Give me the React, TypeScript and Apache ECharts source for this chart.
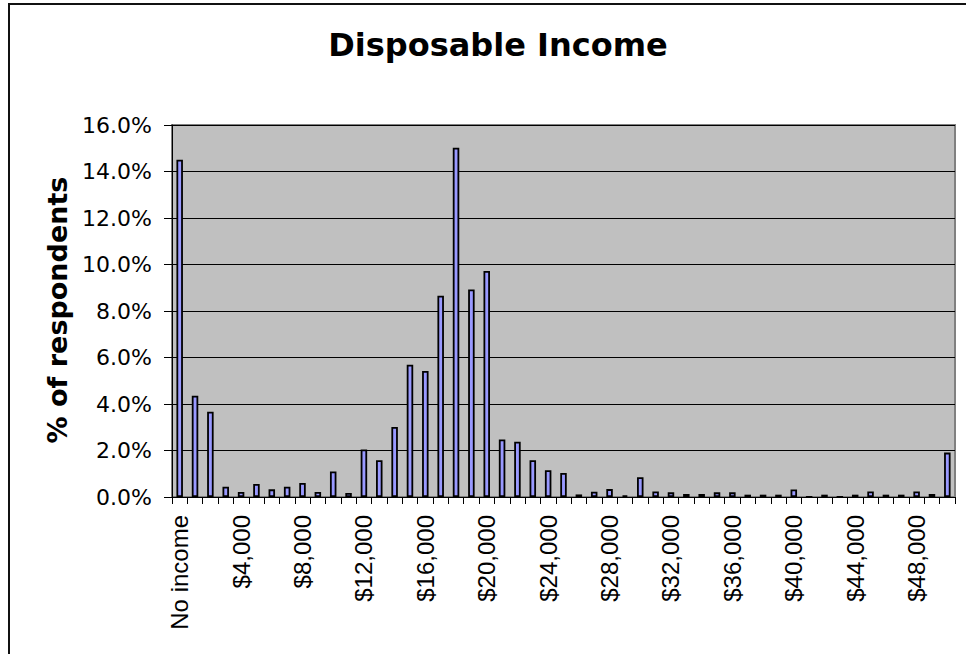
import React, { useEffect, useRef } from "react";
import * as echarts from "echarts";

const categories: string[] = [
  "No income", "$1,000", "$2,000", "$3,000", "$4,000", "$5,000", "$6,000", "$7,000", "$8,000", "$9,000",
  "$10,000", "$11,000", "$12,000", "$13,000", "$14,000", "$15,000", "$16,000", "$17,000", "$18,000", "$19,000",
  "$20,000", "$21,000", "$22,000", "$23,000", "$24,000", "$25,000", "$26,000", "$27,000", "$28,000", "$29,000",
  "$30,000", "$31,000", "$32,000", "$33,000", "$34,000", "$35,000", "$36,000", "$37,000", "$38,000", "$39,000",
  "$40,000", "$41,000", "$42,000", "$43,000", "$44,000", "$45,000", "$46,000", "$47,000", "$48,000", "$49,000",
  "$50,000",
];

const respondentsPct: number[] = [
  14.51, 4.36, 3.67, 0.44, 0.22, 0.56, 0.33, 0.44, 0.6, 0.22,
  1.1, 0.17, 2.04, 1.58, 3.01, 5.69, 5.42, 8.66, 15.02, 8.93,
  9.72, 2.47, 2.38, 1.58, 1.15, 1.03, 0.11, 0.23, 0.34, 0.07,
  0.85, 0.24, 0.2, 0.13, 0.13, 0.2, 0.2, 0.1, 0.1, 0.1,
  0.32, 0, 0.1, 0, 0.1, 0.24, 0.1, 0.1, 0.24, 0.13,
  1.91,
];

const yMin = 0;
const yMax = 16;
const yStep = 2;

const titleText = "Disposable Income";
const yAxisTitle = "% of respondents";

export default function App() {
  const ref = useRef<HTMLDivElement>(null);

  useEffect(() => {
    if (!ref.current) return;
    const chart = echarts.init(ref.current, null, { renderer: "svg" });
    chart.setOption({
      animation: false,
      backgroundColor: "#ffffff",
      title: {
        text: titleText,
        left: 493,
        top: 24,
        textAlign: "center",
        textStyle: {
          fontFamily: "DejaVu Sans",
          fontWeight: "bold",
          fontSize: 32,
          color: "#000",
        },
      },
      graphic: [
        {
          type: "rect",
          shape: { x: 9, y: 4, width: 1100, height: 800 },
          style: { fill: "none", stroke: "#111", lineWidth: 2 },
          silent: true,
          z: 100,
        },
        {
          type: "text",
          x: 57,
          y: 310,
          rotation: Math.PI / 2,
          style: {
            text: yAxisTitle,
            fontFamily: "DejaVu Sans",
            fontWeight: "bold",
            fontSize: 27,
            fill: "#000",
            textAlign: "center",
            textVerticalAlign: "middle",
          },
        },
      ],
      grid: {
        left: 172,
        right: 11,
        top: 125,
        bottom: 157,
        show: true,
        backgroundColor: "#c0c0c0",
        borderColor: "#808080",
        borderWidth: 2,
      },
      xAxis: {
        type: "category",
        data: categories,
        boundaryGap: true,
        axisLine: { show: true, lineStyle: { color: "#000", width: 1 } },
        axisTick: { show: true, interval: 0, length: 7, lineStyle: { color: "#000" } },
        axisLabel: {
          interval: 3,
          rotate: 90,
          margin: 18,
          fontFamily: "Liberation Sans",
          fontSize: 24,
          color: "#000",
        },
        splitLine: { show: false },
      },
      yAxis: {
        type: "value",
        min: yMin,
        max: yMax,
        interval: yStep,
        axisLine: { show: true, lineStyle: { color: "#000", width: 1 } },
        axisTick: { show: true, length: 8, lineStyle: { color: "#000" } },
        axisLabel: {
          formatter: (v: number) => v.toFixed(1) + "%",
          margin: 20,
          fontFamily: "DejaVu Sans",
          fontSize: 22,
          color: "#000",
        },
        splitLine: { show: true, lineStyle: { color: "#000", width: 1 } },
      },
      series: [
        {
          type: "bar",
          data: respondentsPct,
          barWidth: 6.5,
          itemStyle: {
            color: "#9999ff",
            borderColor: "#000",
            borderWidth: 1.8,
          },
        },
      ],
    });
    return () => chart.dispose();
  }, []);

  return (
    <div
      ref={ref}
      style={{ position: "fixed", left: 0, top: 0, width: 966, height: 654 }}
    />
  );
}
